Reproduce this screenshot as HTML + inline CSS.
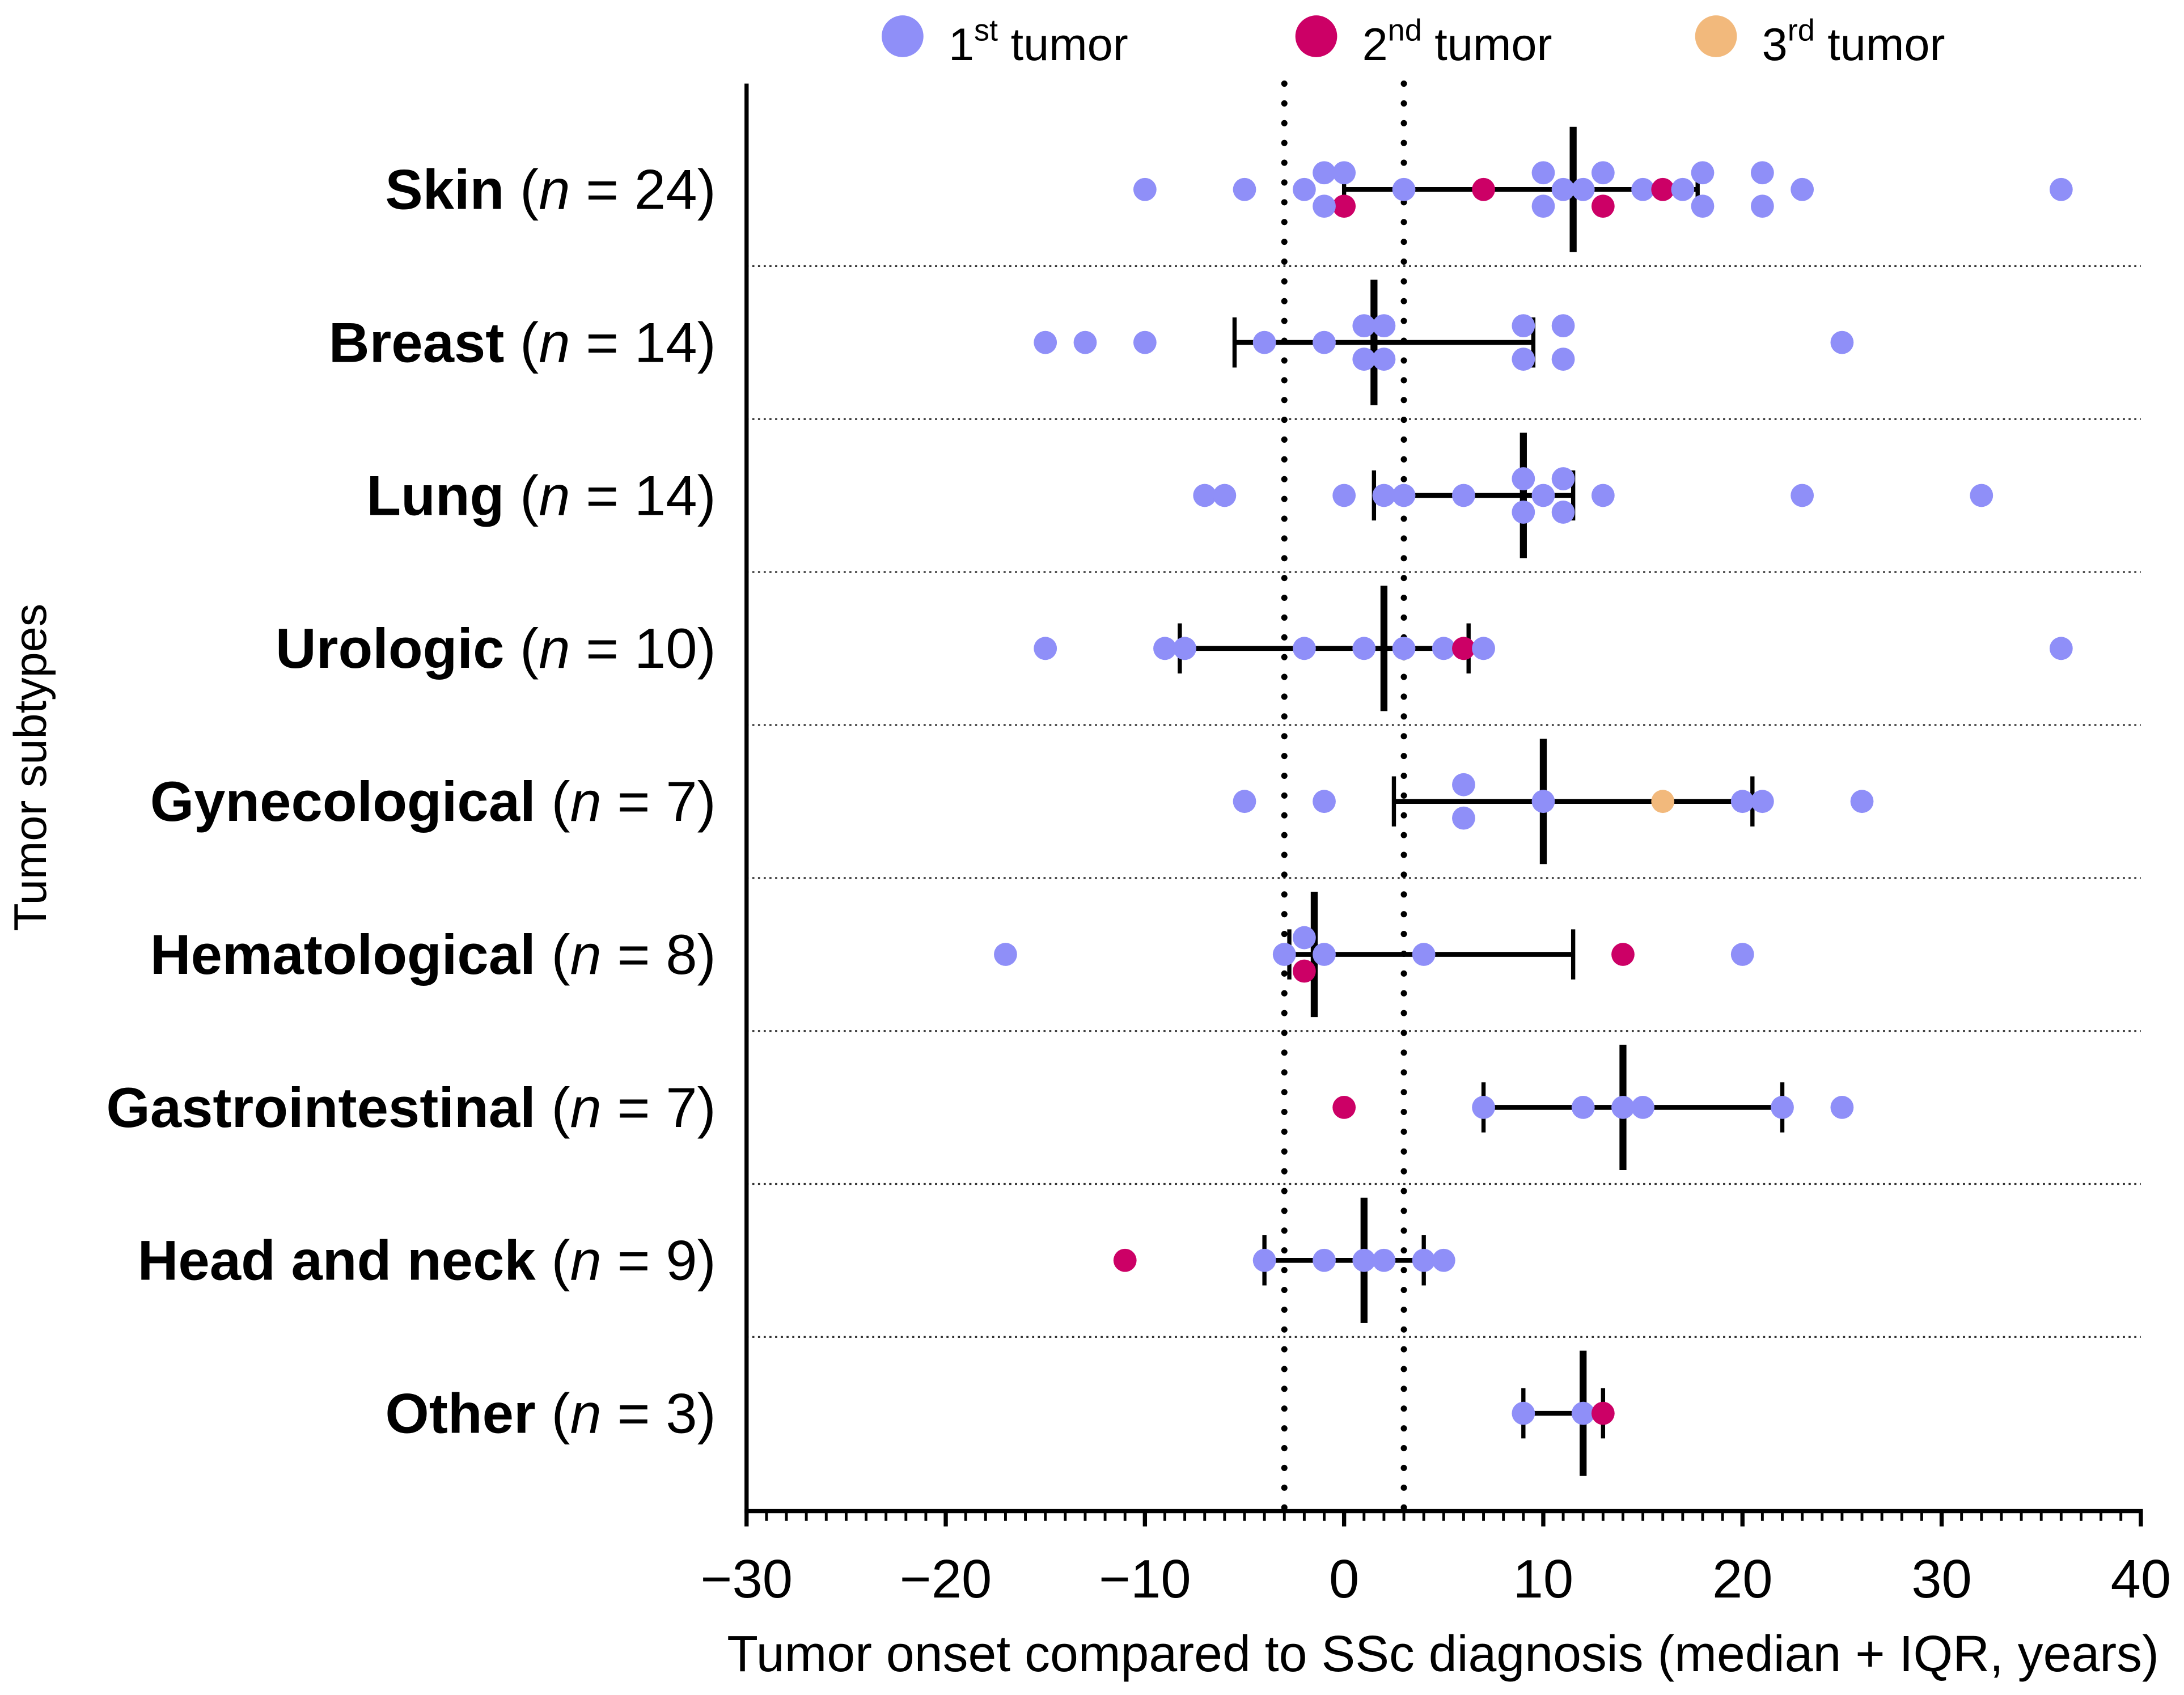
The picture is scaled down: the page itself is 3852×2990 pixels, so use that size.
<!DOCTYPE html>
<html><head><meta charset="utf-8"><style>html,body{margin:0;padding:0;background:#fff}svg{display:block}</style></head>
<body>
<svg id="chart" width="3852" height="2990" viewBox="0 0 1568 1217" xmlns="http://www.w3.org/2000/svg" font-family="Liberation Sans, Arial, sans-serif"></svg>
<script>
const categories = ["Skin","Breast","Lung","Urologic","Gynecological","Hematological","Gastrointestinal","Head and neck","Other"];
const counts = [24,14,14,10,7,8,7,9,3];
const firstTumor = [
 [-10,-5,-2,-1,-1,0,3,10,10,11,12,13,15,17,18,18,21,21,23,36],
 [-15,-13,-10,-4,-1,1,1,2,2,9,9,11,11,25],
 [-7,-6,0,2,3,6,9,9,10,11,11,13,23,32],
 [-15,-9,-8,-2,1,3,5,7,36],
 [-5,-1,6,6,10,20,21,26],
 [-17,-3,-2,-1,4,20],
 [7,12,14,15,22,25],
 [-4,-1,1,2,4,5],
 [9,12]
];
const secondTumor = [[0,7,13,16],[],[],[6],[],[-2,14],[0],[-11],[13]];
const thirdTumor = [[],[],[],[],[16],[],[],[],[]];
const medians = [11.5,1.5,9,2,10,-1.5,14,1,12];
const q1 = [0,-5.5,1.5,-8.25,2.5,-2.75,7,-4,9];
const q3 = [17.75,9.5,11.5,6.25,20.5,11.5,22,4,13];
const xTicks = [-30,-20,-10,0,10,20,30,40];
const refLines = [-3,3];

const NS="http://www.w3.org/2000/svg";
const svg=document.getElementById('chart');
const X0=536,X1=1537,Y0=60,Y1=1085;
const xs=v=>X0+(v+30)*(X1-X0)/70;
const ys=i=>136+i*109.85;
function mk(t,a,p){const e=document.createElementNS(NS,t);for(const k in a)e.setAttribute(k,a[k]);(p||svg).appendChild(e);return e;}

for(let i=0;i<categories.length-1;i++){
 const l=mk('line',{x1:X0,x2:X1,y1:ys(i)+55,y2:ys(i)+55,stroke:'#333','stroke-width':1.3,'stroke-dasharray':'1.5 2.6'});
 
 
}
refLines.forEach(v=>{
 const l=mk('line',{x1:xs(v),x2:xs(v),y1:Y0,y2:Y1,stroke:'#000','stroke-width':4.5,'stroke-linecap':'round','stroke-dasharray':'0 14.2'});
 
 
});
categories.forEach((c,i)=>{
 const y=ys(i);
 const g=mk('g',{});
 
 
 mk('line',{x1:xs(q1[i]),x2:xs(q1[i])+0,y1:y,y2:y,stroke:'#000','stroke-width':3.5},g);
 mk('line',{x1:xs(q1[i]),x2:xs(q3[i]),y1:y,y2:y,stroke:'#000','stroke-width':3.5},g);
 mk('line',{x1:xs(q1[i]),x2:xs(q1[i]),y1:y-18,y2:y+18,stroke:'#000','stroke-width':3},g);
 mk('line',{x1:xs(q3[i]),x2:xs(q3[i]),y1:y-18,y2:y+18,stroke:'#000','stroke-width':3},g);
 mk('line',{x1:xs(medians[i]),x2:xs(medians[i]),y1:y-45,y2:y+45,stroke:'#000','stroke-width':5},g);
});
const colors=['#8f8ff8','#cc0066','#f2b97c'];
categories.forEach((c,i)=>{
 const pts=[];
 firstTumor[i].forEach(v=>pts.push([v,0]));
 secondTumor[i].forEach(v=>pts.push([v,1]));
 thirdTumor[i].forEach(v=>pts.push([v,2]));
 const groups={};
 pts.forEach(p=>{(groups[p[0]]=groups[p[0]]||[]).push(p);});
 Object.values(groups).forEach(gr=>{
  gr.forEach((p,k)=>{
   let off=0;
   if(gr.length===2)off=k===0?-12:12;
   else if(gr.length>=3)off=(k-1)*12;
   const e=mk('circle',{cx:xs(p[0]),cy:ys(i)+off,r:8.3,fill:colors[p[1]]});
   
   
  });
 });
});
const ax=mk('g',{});


mk('line',{x1:X0,x2:X0,y1:Y0,y2:Y1+1.5,stroke:'#000','stroke-width':3});
mk('line',{x1:X0-1.5,x2:X1+1.5,y1:Y1,y2:Y1,stroke:'#000','stroke-width':3},ax);
for(let v=-30;v<=40;v++){
 const major=v%10===0;
 mk('line',{x1:xs(v),x2:xs(v),y1:Y1,y2:Y1+(major?11:7),stroke:'#000','stroke-width':major?3:2},ax);
}
xTicks.forEach(v=>{
 const t=mk('text',{x:xs(v),y:1147,'font-size':39,'text-anchor':'middle',fill:'#000'},ax);
 t.textContent=(v<0?'\u2212'+(-v):v);
 
 
});
const xt=mk('text',{x:1036,y:1200,'font-size':36.5,'text-anchor':'middle'});
xt.textContent='Tumor onset compared to SSc diagnosis (median + IQR, years)';


const yt=mk('text',{x:0,y:0,'font-size':33,'text-anchor':'middle',transform:'translate(33,551) rotate(-90)'});
yt.textContent='Tumor subtypes';


categories.forEach((c,i)=>{
 const t=mk('text',{x:514,y:ys(i)+14,'font-size':40.5,'text-anchor':'end'});
 t.innerHTML='<tspan font-weight="bold">'+c+'</tspan> (<tspan font-style="italic">n</tspan> = '+counts[i]+')';
 
 
});
const legend=[['1','st'],['2','nd'],['3','rd']];
const lx=[648,945,1232];
legend.forEach((l,k)=>{
 const g=mk('g',{});
 
 
 mk('circle',{cx:lx[k],cy:26,r:15,fill:colors[k]},g);
 const t=mk('text',{x:lx[k]+33,y:43,'font-size':33},g);
 t.innerHTML=l[0]+'<tspan font-size="22" dy="-14">'+l[1]+'</tspan><tspan dy="14"> tumor</tspan>';
});
</script>
</body></html>
